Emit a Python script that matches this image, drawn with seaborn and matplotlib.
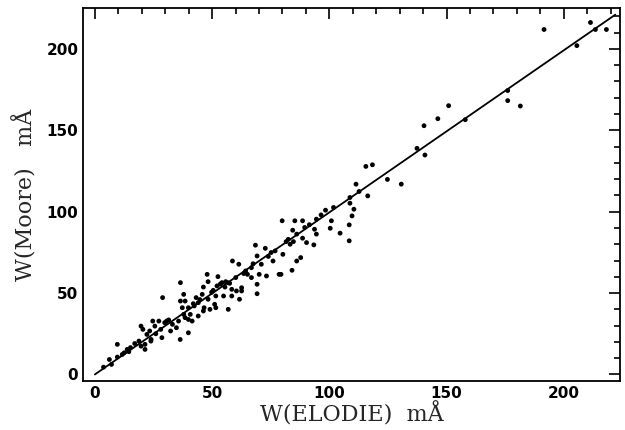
import matplotlib
matplotlib.use("Agg")
import matplotlib.pyplot as plt
import seaborn as sns
from matplotlib.ticker import MultipleLocator

# equivalent widths, ELODIE vs Moore (mA)
w_elodie = [191.6, 205.6, 211.4, 213.5, 218.2, 176.1, 176.1, 181.5, 158.0, 150.9,
            146.3, 140.4, 140.8, 137.4, 130.7, 124.8, 115.6, 118.4, 116.4, 111.4,
            112.7, 108.8, 108.8, 110.5, 109.7, 108.5, 108.5, 104.6, 101.8, 100.9,
            100.4, 98.4, 94.5, 93.7, 94.5, 93.4, 88.6, 89.5, 85.3, 84.4,
            86.1, 88.6, 90.3, 84.7, 83.3, 81.6, 79.9, 80.2, 84.1, 86.1,
            87.8, 78.6, 79.4, 76.0, 75.2, 76.9, 72.7, 68.5, 69.2, 71.0,
            73.2, 70.1, 69.2, 69.2, 66.8, 65.1, 66.8, 64.3, 61.4, 58.7,
            60.1, 62.6, 62.6, 61.7, 60.4, 58.4, 56.7, 54.2, 55.5, 58.4,
            54.9, 56.9, 52.5, 52.1, 50.5, 51.6, 51.1, 51.6, 49.1, 48.3,
            48.3, 47.9, 46.3, 45.8, 44.1, 43.2, 42.4, 44.1, 46.6, 46.3,
            39.9, 40.7, 41.5, 38.5, 37.9, 36.5, 36.5, 37.3, 37.9, 38.5,
            39.9, 39.9, 36.4, 35.7, 33.1, 34.8, 32.3, 30.6, 29.8, 28.9,
            28.6, 28.1, 27.3, 25.6, 24.7, 23.4, 22.2, 23.9, 21.4, 19.7,
            20.5, 18.8, 19.7, 21.4, 13.8, 12.5, 11.7, 9.6, 9.6, 6.2,
            7.1, 3.7, 14.5, 15.2, 26.0, 31.5, 44.8, 53.5, 57.5, 63.5,
            67.5, 74.0, 82.5, 91.5, 96.5, 17.0, 24.0, 42.0, 49.8, 55.8]
w_moore = [211.9, 202.0, 216.2, 211.9, 211.9, 174.4, 168.2, 164.9, 156.5, 165.1,
           157.1, 152.8, 134.8, 138.9, 116.9, 119.8, 127.8, 128.8, 109.7, 116.9,
           112.4, 105.2, 108.7, 101.5, 97.4, 91.9, 82.1, 86.8, 102.6, 94.4,
           89.8, 100.9, 95.4, 89.2, 86.2, 79.6, 94.4, 90.3, 94.4, 88.6,
           86.2, 83.7, 81.0, 81.6, 80.0, 81.6, 94.4, 73.8, 64.0, 69.7,
           71.8, 61.5, 61.5, 69.7, 74.9, 75.9, 77.5, 79.4, 72.8, 67.7,
           60.5, 61.5, 55.4, 49.6, 65.6, 61.5, 59.5, 63.6, 67.7, 69.7,
           59.5, 53.3, 51.3, 46.2, 51.3, 52.3, 56.4, 56.4, 53.7, 48.2,
           48.2, 40.0, 60.1, 54.4, 51.7, 48.2, 43.1, 41.0, 40.0, 46.2,
           57.0, 61.5, 53.7, 49.2, 44.1, 47.2, 42.1, 35.9, 41.0, 39.0,
           41.0, 36.9, 32.8, 45.1, 49.2, 56.4, 45.1, 41.0, 36.9, 34.9,
           33.8, 25.6, 21.5, 32.8, 30.8, 28.7, 26.7, 32.8, 31.8, 47.2,
           22.6, 27.7, 32.8, 29.7, 32.8, 26.7, 24.6, 20.5, 18.5, 29.7,
           27.7, 20.5, 17.4, 15.4, 15.4, 13.3, 12.3, 18.5, 10.7, 9.2,
           6.2, 4.5, 14.0, 16.5, 25.0, 33.5, 46.0, 55.5, 56.0, 62.0,
           68.0, 72.5, 83.0, 92.0, 98.0, 19.0, 21.5, 43.5, 50.5, 57.0]

# one-to-one line
line_x = [0, 222]
line_y = [0, 221]

sns.set_style("white")
plt.rcParams["font.family"] = ["DejaVu Sans"]

fig = plt.figure(figsize=(6.25, 4.3), dpi=100)
ax = fig.add_axes([0.133, 0.114, 0.859, 0.867])

sns.scatterplot(x=w_elodie, y=w_moore, ax=ax, color="black", s=12,
                edgecolor="none", legend=False)
sns.lineplot(x=line_x, y=line_y, ax=ax, color="black", linewidth=1.3)

ax.set_xlim(-5, 224)
ax.set_ylim(-4, 225)

ax.xaxis.set_major_locator(MultipleLocator(50))
ax.xaxis.set_minor_locator(MultipleLocator(10))
ax.yaxis.set_major_locator(MultipleLocator(50))
ax.yaxis.set_minor_locator(MultipleLocator(10))
ax.tick_params(which="both", direction="in", top=True, right=True,
               width=1.2, labelsize=11, colors="black")
ax.tick_params(which="major", length=8)
ax.tick_params(which="minor", length=4)
for lab in ax.get_xticklabels() + ax.get_yticklabels():
    lab.set_fontweight("bold")

for sp in ax.spines.values():
    sp.set_color("black")
    sp.set_linewidth(1.3)

ax.set_xlabel("W(ELODIE)  mÅ", fontsize=16, family="DejaVu Serif", labelpad=1)
ax.set_ylabel("W(Moore)   mÅ", fontsize=16, family="DejaVu Serif", labelpad=6)

fig.savefig("out.png", dpi=100)
